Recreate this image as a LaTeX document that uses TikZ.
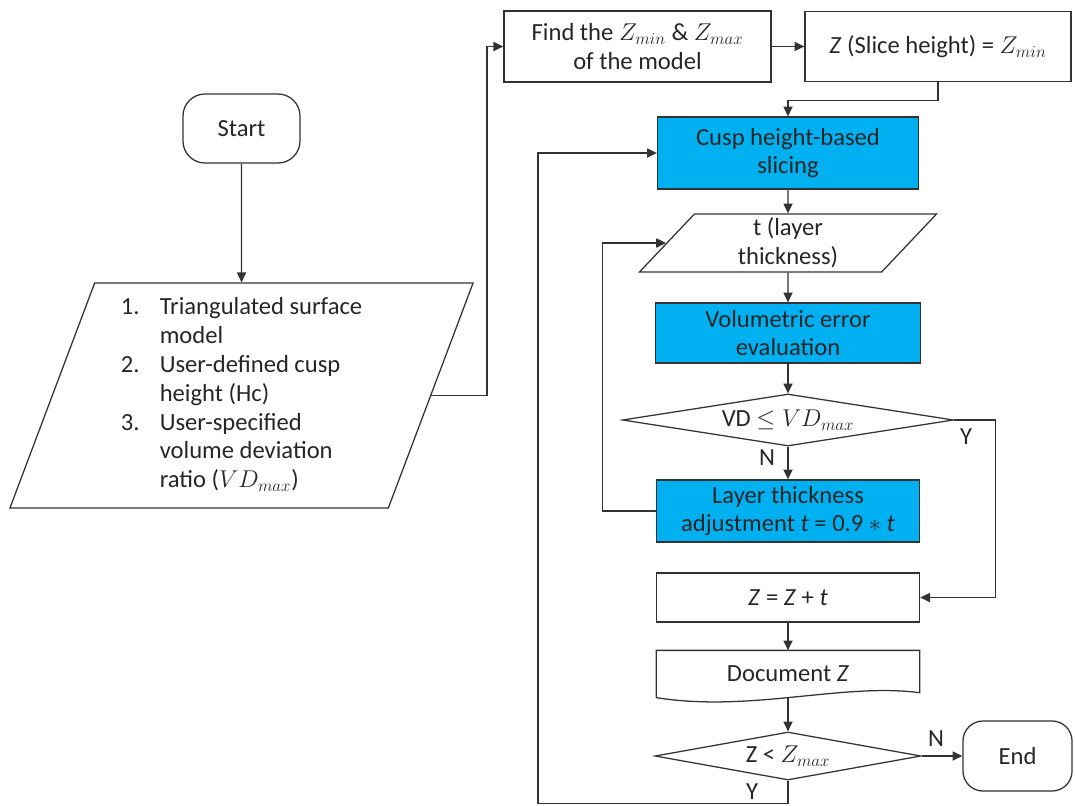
\documentclass[tikz,border=0pt]{standalone}
\usepackage{fontspec}
\setmainfont{Carlito}
\usetikzlibrary{shapes.geometric,arrows.meta}
\definecolor{cuspblue}{HTML}{00B0F0}

\begin{document}
\begin{tikzpicture}[x=0.025cm,y=-0.025cm,font=\fontsize{17.5}{20.5}\selectfont,
    line width=0.9pt,draw=black!80,text=black!85,
    box/.style={draw,rectangle,align=center,inner sep=2pt},
    proc/.style={box,fill=cuspblue},
    term/.style={draw,rectangle,rounded corners=0.55cm,align=center},
    io/.style={draw,trapezium,trapezium stretches body,align=center,inner sep=1pt},
    decide/.style={draw,diamond,inner sep=0pt,align=center},
    arr/.style={-{Triangle[length=7pt,width=6.5pt]}}]
  \useasboundingbox (0,0) rectangle (1075,805);
  \node[term,minimum width=2.925cm,minimum height=1.725cm] (start) at (241.5,128.5) {Start};
  \node[io,trapezium left angle=67.5,trapezium right angle=112.5,
    minimum width=11.575cm,minimum height=5.625cm] (input) at (241.5,395.5) {%
    \begin{tabular}{@{}p{0.975cm}@{}l@{}}
      1. & Triangulated surface\\
         & model\\
      2. & User-defined cusp\\
         & height (Hc)\\
      3. & User-specified\\
         & volume deviation\\
         & ratio ($VD_{max}$)
    \end{tabular}};
  \node[box,minimum width=6.675cm,minimum height=1.775cm] (find) at (637.5,46.5) {Find the $Z_{min}$ \& $Z_{max}$\\of the model};
  \node[box,minimum width=6.65cm,minimum height=1.75cm] (zbox) at (938,46.5) {\textit{Z} (Slice height) = $Z_{min}$};
  \node[proc,minimum width=6.525cm,minimum height=1.8cm] (cusp) at (788,153) {Cusp height-based\\slicing};
  \node[io,trapezium left angle=44,trapezium right angle=136,
    minimum width=7.425cm,minimum height=1.45cm] (tpar) at (788,243) {t (layer\\thickness)};
  \node[proc,minimum width=6.625cm,minimum height=1.5cm] (vol) at (788,333) {Volumetric error\\evaluation};
  \node[decide,aspect=6.4,minimum width=8.275cm,minimum height=1.3cm] (dia1) at (788,420) {VD $\leq VD_{max}$};
  \node[proc,minimum width=6.575cm,minimum height=1.55cm] (layer) at (788,511) {Layer thickness\\adjustment \textit{t} = 0.9 $\ast$ \textit{t}};
  \node[box,minimum width=6.575cm,minimum height=1.225cm] (zplus) at (788,597.5) {\textit{Z} = \textit{Z} + \textit{t}};
  \node[minimum width=6.55cm,minimum height=1.15cm,inner sep=2pt] (doc) at (788,674) {Document \textit{Z}};
  \draw (doc.south west) -- (doc.north west) -- (doc.north east) -- ([yshift=0.125cm]doc.south east)
    .. controls +(-78,-10) and +(94,15) .. (doc.south west);
  \node[decide,aspect=5.5,minimum width=6.65cm,minimum height=1.2cm] (dia2) at (788,756) {Z < $Z_{max}$};
  \node[term,rounded corners=0.5cm,minimum width=2.725cm,minimum height=1.75cm] (stop) at (1017.5,756) {End};
  \node (yes1) at (966,437) {Y};
  \node (no1) at (767,458) {N};
  \node (no2) at (936,739) {N};
  \node (yes2) at (752,792) {Y};
  \draw[arr] (start) -- (input);
  \draw[arr] (input.east) -- ++(55.5,0) |- (find.west);
  \draw[arr] (find) -- (zbox);
  \draw[arr] (zbox.south) -- ++(0,18) -| (cusp.north);
  \draw[arr] (cusp) -- (tpar);
  \draw[arr] (tpar) -- (vol);
  \draw[arr] (vol) -- (dia1);
  \draw[arr] (dia1) -- (layer);
  \draw[arr] (layer.west) -- ++(-53,0) |- (tpar.west);
  \draw[arr] (dia1.east) -- ++(41,0) |- (zplus.east);
  \draw[arr] (zplus) -- (doc);
  \draw[arr] (doc) -- (dia2);
  \draw[arr] (dia2) -- (stop);
  \draw[arr] (dia2.south) -- ++(0,23) -- ++(-250,0) |- (cusp.west);
\end{tikzpicture}
\end{document}
